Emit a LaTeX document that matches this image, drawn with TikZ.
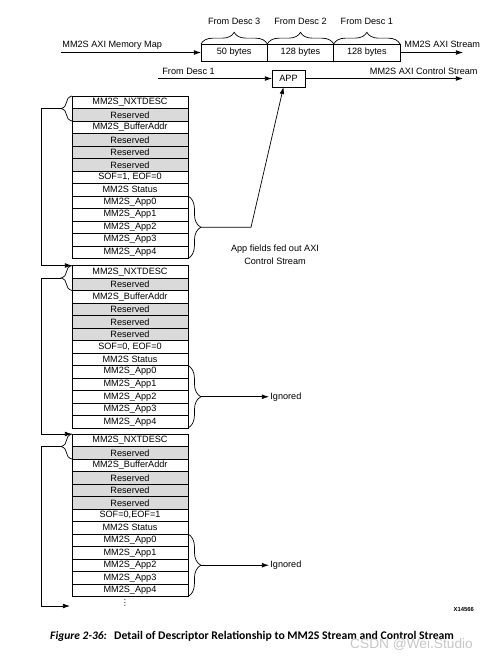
\documentclass[tikz,border=0pt]{standalone}
\usepackage{fontspec}
\setmainfont{Liberation Sans}
\newfontfamily\capfont{Carlito}
\newfontfamily\symfont{DejaVu Sans}
\usetikzlibrary{arrows.meta, positioning, calc, decorations.pathreplacing}

\definecolor{rsvd}{RGB}{218,218,218}

\begin{document}
\begin{tikzpicture}[
    x=0.03cm, y=-0.03cm,
    % Styles
    field/.style={
        rectangle, draw=black, fill=#1, line width=0.6pt,
        minimum width=3.48cm, minimum height=0.375cm,
        inner sep=0pt, outer sep=0pt, anchor=north west,
        font=\fontsize{7.8}{9}\selectfont
    },
    field/.default=white,
    segment/.style={
        rectangle, draw=black, line width=0.6pt,
        minimum width=1.99cm, minimum height=0.51cm,
        inner sep=0pt, outer sep=0pt,
        font=\fontsize{7.8}{9}\selectfont
    },
    txt/.style={
        font=\fontsize{7.8}{11}\selectfont, inner sep=1pt
    },
    arrow/.style={
        -{Latex[length=6pt, width=4pt]}, line width=0.6pt
    },
    brace/.style={
        decorate, decoration={brace, amplitude=#1}, line width=0.6pt
    },
    brace/.default=10pt
]
\useasboundingbox (0,0) rectangle (502,659);

% ── MM2S AXI Stream ─────────────────────────────────────────────────────────
\node[segment, anchor=north west] (seg3) at (201, 44) {50 bytes};
\node[segment, right=0pt of seg3] (seg2) {128 bytes};
\node[segment, right=0pt of seg2] (seg1) {128 bytes};

\draw[brace] (seg3.north west) -- (seg3.north east) node[txt, midway, above=15pt] (from3) {From Desc 3};
\draw[brace] (seg2.north west) -- (seg2.north east) node[txt, midway, above=15pt] (from2) {From Desc 2};
\draw[brace] (seg1.north west) -- (seg1.north east) node[txt, midway, above=15pt] (from1) {From Desc 1};

\node[txt, anchor=base west] (mmlabel) at (61, 47) {MM2S AXI Memory Map};
\coordinate (mmstart) at (61, 52.5);
\draw[arrow] (mmstart) -- (seg3.west);

\node[txt, anchor=base west] (streamlabel) at (403, 47) {MM2S AXI Stream};
\coordinate (streamend) at (463, 52.5);
\draw[arrow] (seg1.east) -- (streamend);

% ── MM2S AXI Control Stream ─────────────────────────────────────────────────
\node[segment, minimum width=0.99cm] (app) at (288.5, 78.5) {APP};
\node[txt, anchor=base west] (ctrlfrom) at (161, 74) {From Desc 1};
\coordinate (ctrlstart) at (158, 78.5);
\draw[arrow] (ctrlstart) -- (app);

\node[txt, anchor=base east] (ctrllabel) at (479, 74) {MM2S AXI Control Stream};
\coordinate (ctrlend) at (463, 78.5);
\draw[arrow] (app) -- (ctrlend);

% ── Descriptors ─────────────────────────────────────────────────────────────
\foreach \d/\top/\sof in {1/96/{SOF=1, EOF=0}, 2/265.5/{SOF=0, EOF=0}, 3/434/{SOF=0,EOF=1}} {
    \foreach \txt/\fc [count=\r] in {MM2S\_NXTDESC/white, Reserved/rsvd, MM2S\_BufferAddr/white,
            Reserved/rsvd, Reserved/rsvd, Reserved/rsvd, \sof/white, MM2S Status/white,
            MM2S\_App0/white, MM2S\_App1/white, MM2S\_App2/white, MM2S\_App3/white, MM2S\_App4/white}
        \node[field=\fc] (d\d-\r) at (72, \top + 12.5*\r - 12.5) {\txt};

    % next pointer brace and app brace
    \draw[brace=9.4pt] (d\d-2.south west) -- (d\d-1.north west);
    \coordinate (t\d) at ($(d\d-1.north west)!0.5!(d\d-2.south west) + (-11, 0)$);
    \draw[brace=11pt] (d\d-9.north east) -- (d\d-13.south east);
    \coordinate (a\d) at ($(d\d-9.north east)!0.5!(d\d-13.south east) + (13, 0)$);
}

\node[font=\symfont\fontsize{7}{7}\selectfont, inner sep=0pt] (dots) at (125, 603) {⋮};

% ── Arrows ──────────────────────────────────────────────────────────────────

% Descriptor chain
\coordinate (rail) at (41, 0);
\coordinate (more) at (70, 606);
\draw[arrow] (t1) -- (t1 -| rail) |- (d2-1.north west);
\draw[arrow] (t2) -- (t2 -| rail) |- (d3-1.north west);
\draw[arrow] (t3) -- (t3 -| rail) |- (more);

% App fields
\draw[arrow] (a1) -- ++(50, 0) coordinate (bend) -- ($(app.south) + (-5, 0)$);
\node[txt, align=center] (applabel) at (275, 254.5) {App fields fed out AXI\\Control Stream};

\node[txt, anchor=west] (ign2) at ($(a2) + (68, 0)$) {Ignored};
\draw[arrow] (a2) -- (ign2);
\node[txt, anchor=west] (ign3) at ($(a3) + (68, 0)$) {Ignored};
\draw[arrow] (a3) -- (ign3);

% ── Caption ─────────────────────────────────────────────────────────────────
\node[font=\fontsize{5}{6}\selectfont\bfseries, anchor=east] (fignum) at (478, 609) {X14566};
\node[font=\capfont\fontsize{9.8}{11}\selectfont\bfseries\itshape, anchor=base west, inner sep=0pt] (capnum) at (50, 639) {Figure 2-36:};
\node[font=\capfont\fontsize{10}{11}\selectfont\bfseries, anchor=base west, inner sep=0pt] (captxt) at (114, 639) {Detail of Descriptor Relationship to MM2S Stream and Control Stream};
\node[font=\fontsize{11.7}{14}\selectfont, text=gray!45, anchor=base west, inner sep=0pt] (wmark) at (350, 648) {CSDN @Wei.Studio};

\end{tikzpicture}
\end{document}
